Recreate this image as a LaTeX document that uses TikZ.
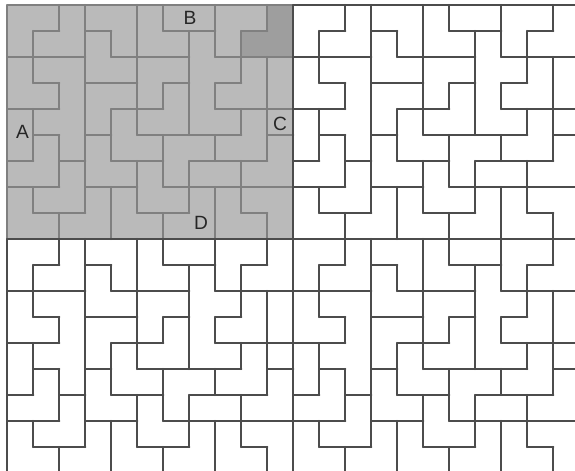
\documentclass[tikz,border=0pt]{standalone}
\usepackage{fontspec}
\setsansfont{Liberation Sans}

\begin{document}
\begin{tikzpicture}[x=0.5cm, y=0.5cm,
    edge/.style={line width=1.2pt, line cap=round, line join=round},
    side/.style={font=\sffamily\fontsize{10.5}{12}\selectfont, text=black!85, inner sep=0pt}]
  \useasboundingbox (-0.281,0.192) rectangle (21.835,-17.923);
  \clip (-0.281,0.192) rectangle (21.835,-17.923);
  % shaded period with its darker tile
  \fill[black!27] (0,0) rectangle (11,-9);
  \fill[black!38] (10,0) -- (11,0) -- (11,-2) -- (9,-2) -- (9,-1) -- (10,-1) -- cycle;
  % one period of the tiling, drawn four times
  \foreach \bx/\by/\ink in {0/0/black!50, 11/0/black!70, 0/-9/black!70, 11/-9/black!70} {
    \begin{scope}[shift={(\bx,\by)}, edge, color=\ink]
      \foreach \x/\a/\b in {1/-1/-3, 1/-4/-6, 1/-7/-8,
          2/0/-1, 2/-3/-4, 2/-5/-7, 2/-8/-9, 3/0/-8,
          4/-1/-2, 4/-4/-6, 4/-7/-9, 5/0/-5, 5/-6/-8,
          6/0/-1, 6/-3/-4, 6/-5/-7, 6/-8/-9, 7/-1/-5, 7/-6/-8,
          8/0/-2, 8/-3/-4, 8/-5/-6, 8/-7/-9,
          9/-1/-3, 9/-4/-5, 9/-6/-8, 10/0/-1, 10/-2/-6, 10/-8/-9}
        \draw (\x,\a) -- (\x,\b);
      \foreach \y/\a/\b in {-1/1/2, -1/3/4, -1/6/8, -1/9/10,
          -2/0/3, -2/4/7, -2/8/11, -3/1/2, -3/3/5, -3/6/7, -3/8/9,
          -4/0/2, -4/4/6, -4/8/11, -5/1/2, -5/3/4, -5/5/9, -5/10/11,
          -6/0/1, -6/2/3, -6/4/6, -6/7/10, -7/0/2, -7/3/5, -7/6/11,
          -8/1/3, -8/5/7, -8/9/10}
        \draw (\a,\y) -- (\b,\y);
      \draw (0,0) rectangle (11,-9);
    \end{scope}
  }
  % sides of the period
  \node[side] (sideA) at (0.59,-4.88) {A};
  \node[side] (sideB) at (7.03,-0.48) {B};
  \node[side] (sideC) at (10.49,-4.56) {C};
  \node[side] (sideD) at (7.45,-8.38) {D};
\end{tikzpicture}
\end{document}
